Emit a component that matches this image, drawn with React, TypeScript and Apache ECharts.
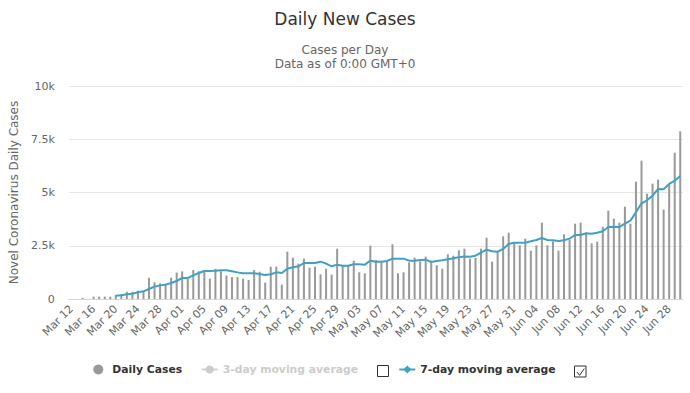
import React, { useEffect, useRef } from "react";
import * as echarts from "echarts";

// Category labels: month name, first day, last day shown
const MONTH_SPANS: [string, number, number][] = [
  ["Mar", 12, 31],
  ["Apr", 1, 30],
  ["May", 1, 31],
  ["Jun", 1, 30],
];

const categories: string[] = [];
MONTH_SPANS.forEach(([m, a, b]) => {
  for (let d = a; d <= b; d++) categories.push(`${m} ${d < 10 ? "0" + d : d}`);
});

// Daily cases
const marchCases = [0, 0, 50, 0, 110, 110, 110, 110, 190, 220, 340, 340, 390, 340, 1000, 780, 735, 670, 1000, 1240];
const aprilCases = [1300, 955, 1360, 1300, 1360, 955, 1420, 1300, 1100, 1030, 1030, 955, 890, 1360, 1280, 770, 1510, 1518, 673, 2222, 1940, 1660, 1894, 1470, 1518, 1158, 1424, 1142, 2363, 1550];
const mayCases = [1550, 1800, 1252, 1205, 2504, 1831, 1753, 1800, 2567, 1205, 1252, 1722, 1940, 1768, 1988, 1800, 1580, 1424, 2097, 2035, 2285, 2363, 1894, 1940, 2363, 2880, 1753, 2222, 2942, 3114, 2614];
const juneCases = [2520, 2833, 2270, 2520, 3584, 2520, 2708, 2270, 3036, 2786, 3537, 3584, 3083, 2614, 2692, 3396, 4147, 3772, 3584, 4335, 3537, 5509, 6495, 4945, 5415, 5603, 4194, 5384, 6870, 7872];

// 7-day moving average
const marchAvg7 = [null, null, null, null, null, null, null, null, 156, 172, 219, 250, 313, 360, 470, 580, 640, 673, 751, 845];
const aprilAvg7 = [986, 986, 1111, 1220, 1315, 1315, 1330, 1346, 1346, 1300, 1250, 1205, 1205, 1205, 1174, 1127, 1165, 1252, 1220, 1424, 1487, 1534, 1690, 1690, 1690, 1753, 1660, 1534, 1612, 1565];
const mayAvg7 = [1565, 1627, 1627, 1612, 1800, 1753, 1753, 1784, 1894, 1894, 1894, 1800, 1800, 1831, 1847, 1737, 1784, 1815, 1862, 1910, 1956, 2000, 1988, 2035, 2175, 2316, 2238, 2222, 2347, 2580, 2645];
const juneAvg7 = [2645, 2645, 2708, 2770, 2864, 2770, 2755, 2723, 2755, 2833, 3005, 3005, 3083, 3067, 3114, 3177, 3380, 3396, 3380, 3537, 3678, 4069, 4491, 4632, 4851, 5164, 5149, 5400, 5556, 5775];

// 3-day moving average is hidden in the reference; no values are visible
const avg3: (number | null)[] = [];

const dailyCases = [...marchCases, ...aprilCases, ...mayCases, ...juneCases];
const avg7 = [...marchAvg7, ...aprilAvg7, ...mayAvg7, ...juneAvg7];

const yTicks = [0, 2500, 5000, 7500, 10000];

const FONT = "DejaVu Sans";

export default function App() {
  const ref = useRef<HTMLDivElement>(null);
  useEffect(() => {
    if (!ref.current) return;
    const chart = echarts.init(ref.current, undefined, { renderer: "svg" });
    const legendText = { fontFamily: FONT, fontSize: 10.8, fontWeight: "bold" as const, color: "#333333" };
    chart.setOption({
      animation: false,
      backgroundColor: "#ffffff",
      textStyle: { fontFamily: FONT },
      title: {
        text: "Daily New Cases",
        subtext: "Cases per Day\nData as of 0:00 GMT+0",
        left: "center",
        top: 3,
        itemGap: 13,
        textStyle: { fontFamily: FONT, fontSize: 17, fontWeight: "normal", color: "#333333", lineHeight: 22 },
        subtextStyle: { fontFamily: FONT, fontSize: 12, color: "#666666", lineHeight: 14 },
      },
      grid: { left: 67, right: 7, top: 86, bottom: 94, containLabel: false },
      legend: [
        {
          data: ["Daily Cases"],
          left: 88.3,
          top: 359,
          icon: "circle",
          itemWidth: 10,
          itemHeight: 10,
          textStyle: { ...legendText, padding: [0, 0, 0, 4] },
        },
        {
          data: ["3-day moving average"],
          left: 195.7,
          top: 359,
          itemWidth: 16,
          itemHeight: 10,
          inactiveColor: "#cccccc",
          selected: { "3-day moving average": false },
          textStyle: legendText,
        },
        {
          data: ["7-day moving average"],
          left: 393.3,
          top: 359,
          itemWidth: 16,
          itemHeight: 10,
          textStyle: legendText,
        },
      ],
      xAxis: {
        type: "category",
        data: categories,
        boundaryGap: true,
        axisLine: { show: true, lineStyle: { color: "#ccd6eb", width: 1 } },
        axisTick: { show: false },
        axisLabel: {
          interval: 3,
          rotate: 45,
          fontFamily: FONT,
          fontSize: 11,
          color: "#666666",
          margin: 8,
        },
        splitLine: { show: false },
      },
      yAxis: {
        type: "value",
        min: yTicks[0],
        max: yTicks[yTicks.length - 1],
        interval: 2500,
        name: "Novel Coronavirus Daily Cases",
        nameLocation: "middle",
        nameGap: 47,
        nameTextStyle: { fontFamily: FONT, fontSize: 12, color: "#666666" },
        axisLine: { show: false },
        axisTick: { show: false },
        axisLabel: {
          fontFamily: FONT,
          fontSize: 11,
          color: "#666666",
          margin: 14,
          formatter: (v: number) => (v === 0 ? "0" : `${v / 1000}k`),
        },
        splitLine: { lineStyle: { color: "#e6e6e6", width: 1 } },
      },
      series: [
        {
          name: "Daily Cases",
          type: "bar",
          data: dailyCases,
          barWidth: 2,
          itemStyle: { color: "#999999" },
        },
        {
          name: "3-day moving average",
          type: "line",
          data: avg3,
          symbol: "circle",
          showSymbol: false,
          itemStyle: { color: "#999999" },
          lineStyle: { width: 2 },
        },
        {
          name: "7-day moving average",
          type: "line",
          data: avg7,
          symbol: "diamond",
          showSymbol: false,
          connectNulls: false,
          itemStyle: { color: "#3ba3c8" },
          lineStyle: { width: 2, color: "#3ba3c8" },
          z: 3,
        },
      ],
      graphic: [
        {
          type: "rect",
          shape: { x: 377.5, y: 365.5, width: 11, height: 11 },
          style: { fill: "#ffffff", stroke: "#333333", lineWidth: 1 },
        },
        {
          type: "rect",
          shape: { x: 574.5, y: 366, width: 11.5, height: 11 },
          style: { fill: "#ffffff", stroke: "#333333", lineWidth: 1 },
        },
        {
          type: "polyline",
          shape: { points: [[577, 372], [579.6, 375.3], [584.3, 368.5]] },
          style: { fill: "none", stroke: "#333333", lineWidth: 1 },
        },
      ],
    });
    return () => chart.dispose();
  }, []);
  return (
    <div
      ref={ref}
      style={{ position: "absolute", left: 0, top: 0, width: 690, height: 393 }}
    />
  );
}
